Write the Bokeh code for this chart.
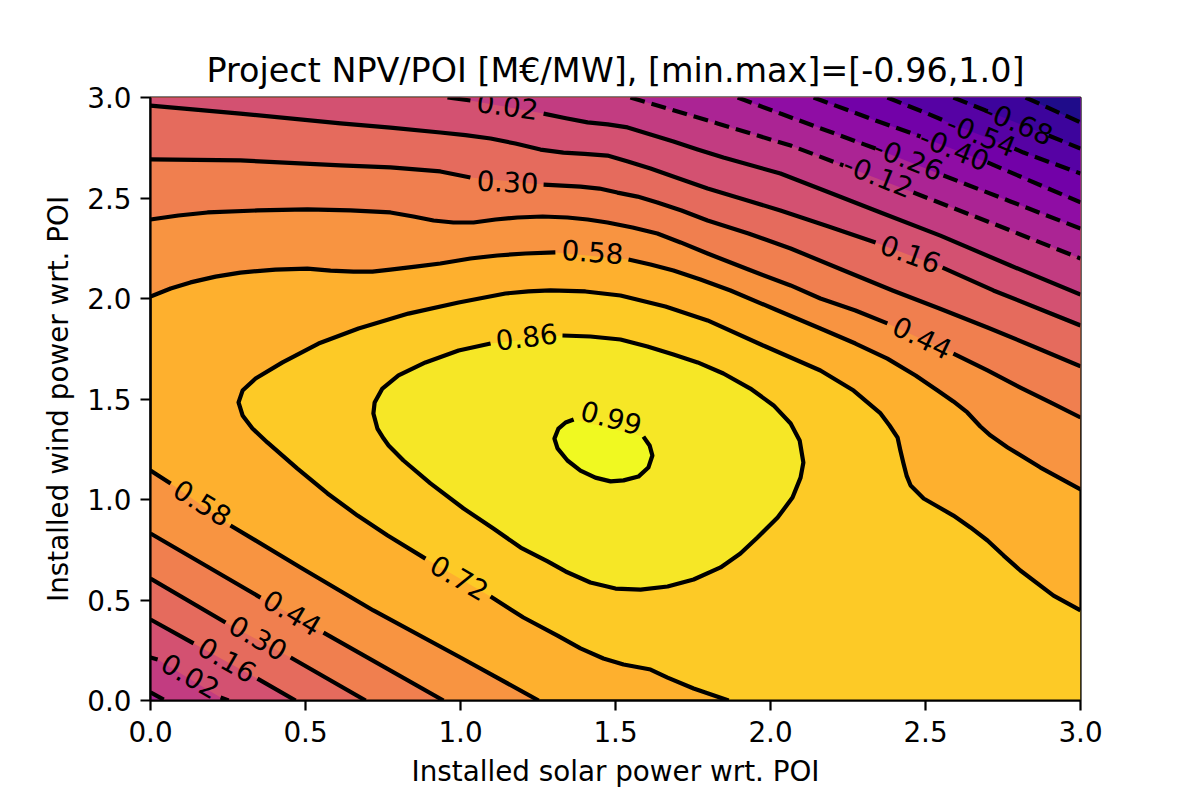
from math import nan

from bokeh.core.properties import value
from bokeh.embed import file_html
from bokeh.models import ColumnDataSource, FixedTicker, PrintfTickFormatter, Range1d
from bokeh.plotting import figure
from bokeh.resources import INLINE

# contours, nan = gap left for the inline label
m082_x = [2.823, 3.0]
m082_y = [3.0, 2.876]
m068_x = [2.590, 2.694, 2.703, nan, 2.897, 3.0]
m068_y = [3.0, 2.935, 2.930, nan, 2.811, 2.746]
m054_x = [2.377, 2.506, 2.574, nan, 2.787, 2.816, 3.0]
m054_y = [3.0, 2.920, 2.876, nan, 2.746, 2.726, 2.622]
m040_x = [2.139, 2.339, 2.484, nan, 2.7, 3.0]
m040_y = [3.0, 2.886, 2.806, nan, 2.677, 2.478]
m026_x = [1.894, 2.032, 2.339, nan, 2.558, 2.774, 3.0]
m026_y = [3.0, 2.920, 2.746, nan, 2.612, 2.483, 2.348]
m012_x = [1.548, 1.829, 2.065, 2.235, nan, 2.461, 2.742, 3.0]
m012_y = [3.0, 2.871, 2.761, 2.662, nan, 2.527, 2.358, 2.199]

top002_x = [0.958, 1.032, nan, 1.268, 1.340, 1.410, 1.475, 1.539, 1.613, 1.687, 1.765, 1.848, 2.032, 2.194, 2.355,
            2.548, 2.774, 3.0]
top002_y = [3.0, 2.985, nan, 2.920, 2.897, 2.876, 2.866, 2.851, 2.816, 2.781, 2.741, 2.701, 2.622, 2.525, 2.428,
            2.313, 2.164, 2.020]
top016_x = [0.0, 0.290, 0.613, 0.774, 0.935, 1.016, 1.097, 1.177, 1.258, 1.332, 1.400, 1.474, 1.540, 1.613, 1.700,
            1.797, 1.915, 2.032, 2.185, 2.339, nan, 2.555, 2.719, 2.86, 3.0]
top016_y = [2.960, 2.920, 2.871, 2.85, 2.826, 2.813, 2.796, 2.771, 2.741, 2.726, 2.72, 2.711, 2.682, 2.647, 2.60,
            2.547, 2.493, 2.438, 2.36, 2.279, nan, 2.154, 2.040, 1.953, 1.866]
top030_x = [0.0, 0.290, 0.613, 0.774, 0.935, 1.032, nan, 1.268, 1.387, 1.448, 1.506, 1.571, 1.635, 1.713, 1.797,
            1.929, 2.065, 2.229, 2.394, 2.545, 2.7, 2.85, 3.0]
top030_y = [2.692, 2.687, 2.662, 2.652, 2.632, 2.602, nan, 2.567, 2.557, 2.547, 2.527, 2.507, 2.478, 2.438, 2.388,
            2.323, 2.249, 2.144, 2.040, 1.95, 1.856, 1.76, 1.662]
top044_x = [0.0, 0.090, 0.184, 0.345, 0.506, 0.645, 0.774, 0.848, 0.913, 0.977, 1.042, 1.113, 1.184, 1.265, 1.345,
            1.410, 1.474, 1.555, 1.635, 1.710, 1.797, 1.929, 2.065, 2.161, 2.274, 2.377, nan, 2.590, 2.700, 2.806,
            2.903, 3.0]
top044_y = [2.393, 2.413, 2.428, 2.438, 2.443, 2.438, 2.428, 2.408, 2.388, 2.378, 2.378, 2.393, 2.403, 2.408, 2.403,
            2.393, 2.378, 2.353, 2.323, 2.279, 2.224, 2.144, 2.065, 2.000, 1.940, 1.876, nan, 1.726, 1.642, 1.557,
            1.483, 1.408]
top058_x = [0.0, 0.065, 0.129, 0.210, 0.290, 0.403, 0.506, 0.581, 0.655, 0.716, 0.774, 0.855, 0.935, 1.032, 1.119,
            1.210, 1.306, nan, 1.542, 1.613, 1.687, 1.774, 1.871, 2.016, 2.161, 2.274, 2.377, 2.468, 2.539, 2.590,
            2.635, 2.677, 2.710, 2.765, 2.871, 3.0]
top058_y = [2.010, 2.050, 2.080, 2.109, 2.129, 2.144, 2.149, 2.139, 2.134, 2.134, 2.144, 2.159, 2.174, 2.199, 2.214,
            2.224, 2.229, nan, 2.194, 2.169, 2.139, 2.095, 2.040, 1.945, 1.851, 1.776, 1.701, 1.617, 1.542, 1.488,
            1.433, 1.363, 1.318, 1.259, 1.159, 1.050]

low058_x = [0.0, 0.065, nan, 0.258, 0.484, 0.719, 1.0, 1.252]
low058_y = [1.144, 1.080, nan, 0.871, 0.662, 0.448, 0.214, 0.0]
low044_x = [0.0, 0.355, nan, 0.558, 0.945]
low044_y = [0.831, 0.512, nan, 0.338, 0.0]
low030_x = [0.0, 0.242, nan, 0.452, 0.694]
low030_y = [0.607, 0.388, nan, 0.214, 0.0]
low016_x = [0.0, 0.139, nan, 0.345, 0.468]
low016_y = [0.403, 0.284, nan, 0.109, 0.0]
low002_x = [0.0, 0.023, nan, 0.226, 0.252]
low002_y = [0.214, 0.204, nan, 0.015, 0.0]
lowm012_x = [0.0, 0.048]
lowm012_y = [0.040, 0.0]

mid072_x = [1.865, 1.752, 1.668, 1.613, 1.526, 1.461, 1.387, 1.313, 1.203, 1.097, nan, 0.887, 0.765, 0.668, 0.571,
            0.474, 0.377, 0.329, 0.297, 0.284, 0.297, 0.339, 0.426, 0.542, 0.671, 0.832, 0.994, 1.145, 1.219, 1.290,
            1.403, 1.516, 1.661, 1.797, 1.984, 2.161, 2.268, 2.355, 2.384, 2.410, 2.419, 2.429, 2.439, 2.452, 2.494,
            2.539, 2.590, 2.645, 2.7, 2.752, 2.806, 2.913, 3.0]
mid072_y = [0.0, 0.060, 0.114, 0.154, 0.179, 0.209, 0.259, 0.323, 0.413, 0.517, nan, 0.706, 0.821, 0.920, 1.030,
            1.154, 1.284, 1.353, 1.418, 1.483, 1.542, 1.602, 1.682, 1.776, 1.851, 1.925, 1.980, 2.025, 2.035, 2.040,
            2.035, 2.015, 1.960, 1.891, 1.761, 1.642, 1.542, 1.428, 1.368, 1.308, 1.244, 1.179, 1.119, 1.070, 1.005,
            0.965, 0.920, 0.861, 0.796, 0.721, 0.647, 0.522, 0.448]
mid086_x = [1.329, 1.419, 1.516, 1.603, 1.687, 1.765, 1.848, 1.935, 2.010, 2.065, 2.094, 2.106, 2.097, 2.071, 2.023,
            1.958, 1.903, 1.839, 1.752, 1.668, 1.581, 1.5, 1.419, 1.339, 1.281, 1.194, 1.106, 1.010, 0.903, 0.816,
            0.768, 0.752, 0.732, 0.719, 0.723, 0.748, 0.8, 0.887, 0.994, 1.097]
mid086_y = [1.816, 1.811, 1.796, 1.761, 1.721, 1.682, 1.627, 1.552, 1.468, 1.378, 1.294, 1.184, 1.109, 1.010, 0.910,
            0.811, 0.731, 0.662, 0.602, 0.567, 0.552, 0.557, 0.587, 0.642, 0.692, 0.761, 0.856, 0.955, 1.080, 1.194,
            1.269, 1.303, 1.353, 1.428, 1.483, 1.552, 1.617, 1.682, 1.741, 1.776]
mid099_x = [1.590, 1.610, 1.619, 1.606, 1.574, 1.526, 1.484, 1.435, 1.387, 1.345, 1.313, 1.303, 1.316, 1.339, 1.365]
mid099_y = [1.313, 1.269, 1.219, 1.159, 1.114, 1.095, 1.090, 1.109, 1.144, 1.194, 1.254, 1.303, 1.353, 1.383, 1.398]

label_text = ["-0.68", "-0.54", "-0.40", "-0.26", "-0.12", "0.16", "0.02", "0.30", "0.58", "0.86", "0.99", "0.72",
              "0.44", "0.58", "0.44", "0.30", "0.16", "0.02"]
label_x = [2.8, 2.681, 2.594, 2.445, 2.348, 2.452, 1.152, 1.152, 1.426, 1.213, 1.487, 0.997, 2.490, 0.168, 0.458,
           0.348, 0.248, 0.129]
label_y = [2.876, 2.816, 2.746, 2.697, 2.612, 2.224, 2.960, 2.582, 2.234, 1.811, 1.408, 0.612, 1.806, 0.985, 0.438,
           0.313, 0.204, 0.124]
label_angle = [-23, -22, -22, -22, -22, -20, -8, -3, -4, 7, -15, -30, -26, -32, -31, -30, -30, -30]

ticks = [0.0, 0.5, 1.0, 1.5, 2.0, 2.5, 3.0]

# band colours, low to high
c_below_m082 = "#1f0c8a"
c_m082 = "#3d049c"
c_m068 = "#5602a4"
c_m054 = "#7201a8"
c_m040 = "#8f0da4"
c_m026 = "#ab2494"
c_m012 = "#c23c81"
c_002 = "#d35171"
c_016 = "#e56b5d"
c_030 = "#f07f4f"
c_044 = "#f89441"
c_058 = "#feb02e"
c_072 = "#fdca26"
c_086 = "#f6e726"
c_099 = "#f0f921"


def clean(vals):
    return [v for v in vals if v == v]


p = figure(width=1192, height=792, output_backend="svg", toolbar_location=None,
           x_range=Range1d(0, 3), y_range=Range1d(0, 3),
           title="Project NPV/POI [M€/MW], [min.max]=[-0.96,1.0]",
           x_axis_label="Installed solar power wrt. POI",
           y_axis_label="Installed wind power wrt. POI",
           min_border_left=150, min_border_right=112, min_border_top=97, min_border_bottom=92)
p.background_fill_color = c_058
p.border_fill_color = "white"
p.grid.visible = False
p.outline_line_color = "black"
p.outline_line_width = 2.2

# upper right side, each patch covers everything above its contour
top_bands = [
    (top058_x, top058_y, c_044), (top044_x, top044_y, c_030), (top030_x, top030_y, c_016),
    (top016_x, top016_y, c_002), (top002_x, top002_y, c_m012), (m012_x, m012_y, c_m026),
    (m026_x, m026_y, c_m040), (m040_x, m040_y, c_m054), (m054_x, m054_y, c_m068),
    (m068_x, m068_y, c_m082), (m082_x, m082_y, c_below_m082),
]
for xs, ys, col in top_bands:
    px, py = clean(xs), clean(ys)
    if px[0] == 0.0:
        px, py = px + [3.0, 0.0], py + [3.0, 3.0]
    else:
        px, py = px + [3.0], py + [3.0]
    p.patch(px, py, fill_color=col, line_color=None)

# lower left corner
low_bands = [
    (low058_x, low058_y, c_044), (low044_x, low044_y, c_030), (low030_x, low030_y, c_016),
    (low016_x, low016_y, c_002), (low002_x, low002_y, c_m012), (lowm012_x, lowm012_y, c_m026),
]
for xs, ys, col in low_bands:
    p.patch(clean(xs) + [0.0], clean(ys) + [0.0], fill_color=col, line_color=None)

p.patch(clean(mid072_x) + [3.0], clean(mid072_y) + [0.0], fill_color=c_072, line_color=None)
p.patch(mid086_x, mid086_y, fill_color=c_086, line_color=None)
p.patch(mid099_x, mid099_y, fill_color=c_099, line_color=None)

solid = [top002_x, top016_x, top030_x, top044_x, top058_x, low058_x, low044_x, low030_x, low016_x, low002_x,
         mid072_x, mid086_x, mid099_x]
solid_y = [top002_y, top016_y, top030_y, top044_y, top058_y, low058_y, low044_y, low030_y, low016_y, low002_y,
           mid072_y, mid086_y, mid099_y]
for xs, ys in zip(solid, solid_y):
    p.line(xs, ys, line_color="black", line_width=4.2, line_join="round")

dashed = [m012_x, m026_x, m040_x, m054_x, m068_x, m082_x, lowm012_x]
dashed_y = [m012_y, m026_y, m040_y, m054_y, m068_y, m082_y, lowm012_y]
for xs, ys in zip(dashed, dashed_y):
    p.line(xs, ys, line_color="black", line_width=4.2, line_dash=[15, 7])

labels = ColumnDataSource(data=dict(x=label_x, y=label_y, text=label_text, angle=label_angle))
p.text("x", "y", text="text", angle="angle", angle_units="deg", source=labels, text_color="black",
       text_font=value("DejaVu Sans"), text_font_size=value("27.8px"), text_align="center", text_baseline="middle")

p.title.align = "center"
p.title.text_font = "DejaVu Sans"
p.title.text_font_style = "normal"
p.title.text_font_size = "33.4px"
p.title.text_color = "black"
p.title.standoff = 15

for ax in (p.xaxis[0], p.yaxis[0]):
    ax.ticker = FixedTicker(ticks=ticks)
    ax.formatter = PrintfTickFormatter(format="%.1f")
    ax.minor_tick_line_color = None
    ax.major_tick_in = 0
    ax.major_tick_out = 10
    ax.major_tick_line_width = 2.2
    ax.axis_line_width = 2.2
    ax.major_label_text_font = "DejaVu Sans"
    ax.major_label_text_font_size = "27.8px"
    ax.major_label_text_color = "black"
    ax.axis_label_text_font = "DejaVu Sans"
    ax.axis_label_text_font_size = "27.8px"
    ax.axis_label_text_font_style = "normal"
    ax.axis_label_text_color = "black"
p.xaxis[0].major_label_standoff = 10
p.xaxis[0].axis_label_standoff = 10
p.yaxis[0].major_label_standoff = 9
p.yaxis[0].axis_label_standoff = 9

open("out.html", "w").write(file_html(p, INLINE))
